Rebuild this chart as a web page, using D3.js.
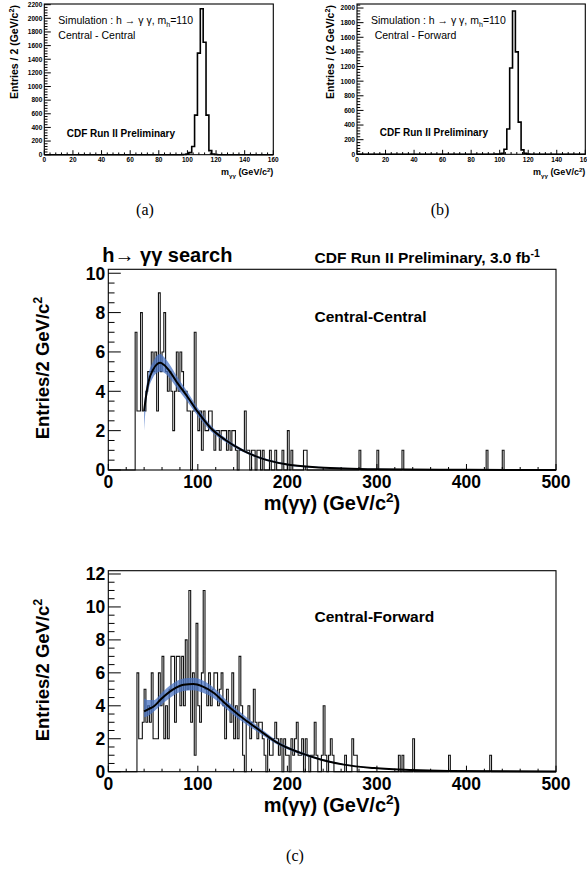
<!DOCTYPE html>
<html>
<head>
<meta charset="utf-8">
<script src="https://cdn.jsdelivr.net/npm/d3@7"></script>
<style>
  body { margin: 0; background: #fff; }
  text { font-family: "Liberation Sans", Arial, sans-serif; fill: #000; }
</style>
</head>
<body>
<div id="chart"></div>
<script>
// ---------- data ----------

// (a), (b): simulated signal, m_h = 110, 2 GeV bins (low edges)
var simLowEdges = [97, 99, 101, 103, 105, 107, 109, 111, 113, 115, 117, 119];
var simCentralCentral = [3, 8, 30, 120, 580, 1490, 2140, 1650, 580, 60, 10, 2];
var simCentralForward = [2, 5, 15, 70, 345, 1180, 1960, 1400, 440, 60, 12, 2];
var simMassTicks = [0, 20, 40, 60, 80, 100, 120, 140, 160];
var simCCTicks = [0, 200, 400, 600, 800, 1000, 1200, 1400, 1600, 1800, 2000, 2200];
var simCFTicks = [0, 200, 400, 600, 800, 1000, 1200, 1400, 1600, 1800, 2000];

// (c) data, 2 GeV bins starting at 30 GeV/c^2
var dataStart = 30;
var ccCounts = [
  7, 3, 3, 8, 3, 3, 4, 5, 5, 6,   // 30-48
  5, 6, 3, 9, 5, 6, 8, 5, 4, 5,   // 50-68
  4, 2, 4, 6, 4, 6, 5, 4, 4, 3,   // 70-88
  3, 0, 3, 7, 3, 2, 3, 1, 3, 2,   // 90-108
  2, 3, 3, 2, 1, 2, 2, 1, 2, 2,   // 110-128
  2, 1, 2, 1, 2, 2, 1, 0, 1, 1,   // 130-148
  1, 3, 1, 1, 0, 1, 1, 0, 1, 1,   // 150-168
  0, 1, 0, 0, 0, 1, 0, 0, 1, 0,   // 170-188
  0, 0, 1, 0, 0, 2, 0, 1, 0, 0,   // 190-208
  0, 0, 0, 0, 1, 1, 0             // 210-222
];
var ccTailMass = [280, 300, 328, 422, 440];
var ccTailCounts = [1, 1, 1, 1, 1];

var cfCounts = [
  0, 6, 2, 2, 3, 5, 3, 4, 3, 6,   // 30-48
  2, 2, 2, 6, 4, 7, 2, 4, 2, 5,   // 50-68
  7, 7, 3, 7, 7, 4, 7, 4, 8, 5,   // 70-88
  11, 3, 6, 1, 9, 4, 3, 6, 11, 5, // 90-108
  4, 6, 4, 5, 6, 6, 4, 5, 6, 4,   // 110-128
  2, 5, 4, 3, 6, 2, 4, 2, 7, 4,   // 130-148
  1, 0, 3, 4, 2, 3, 5, 3, 2, 3,   // 150-168
  3, 2, 1, 0, 2, 1, 1, 2, 3, 2,   // 170-188
  1, 2, 0, 2, 1, 1, 0, 2, 1, 2,   // 190-208
  3, 1, 1, 2, 0, 2, 1, 0, 1, 1,   // 210-228
  3, 1, 0, 0, 1, 4, 1, 0, 1, 2,   // 230-248
  1, 0, 0, 0, 0, 0, 0, 1, 0, 0,   // 250-268
  0, 2, 1, 1, 0                   // 270-278
];
var cfTailMass = [324, 328, 340, 380, 426];
var cfTailCounts = [1, 1, 2, 1, 1];

// background fits and their uncertainty bands
var ccFitMass = [40, 42, 45, 50, 55, 58, 62, 68, 76, 88, 100, 114, 130, 150, 172, 197, 235, 300, 400, 500];
var ccFitValue = [3.0, 3.7, 4.5, 5.1, 5.4, 5.45, 5.35, 5.05, 4.5, 3.75, 2.95, 2.15, 1.55, 1.0, 0.58, 0.3, 0.13, 0.04, 0.01, 0.003];
var ccBandLow = [2.0, 3.3, 4.1, 4.7, 4.95, 5.0, 4.95, 4.7, 4.2, 3.5, 2.75, 2.0, 1.45, 0.93, 0.53, 0.26, 0.1, 0.02, 0.005, 0.001];
var ccBandHigh = [3.4, 4.1, 4.9, 5.5, 5.85, 5.9, 5.75, 5.4, 4.8, 4.0, 3.15, 2.3, 1.65, 1.07, 0.63, 0.34, 0.16, 0.06, 0.015, 0.005];

var cfFitMass = [40, 45, 51, 59, 72, 84, 95, 105, 118, 130, 143, 155, 172, 188, 213, 238, 263, 297, 339, 380, 500];
var cfFitValue = [3.66, 3.8, 3.97, 4.41, 4.98, 5.28, 5.32, 5.18, 4.78, 4.17, 3.56, 3.06, 2.39, 1.78, 1.17, 0.73, 0.43, 0.22, 0.1, 0.05, 0.01];
var cfBandLow = [3.3, 3.4, 3.65, 4.05, 4.6, 4.9, 4.95, 4.8, 4.45, 3.9, 3.3, 2.84, 2.23, 1.66, 1.09, 0.68, 0.4, 0.2, 0.09, 0.045, 0.009];
var cfBandHigh = [4.45, 4.35, 4.35, 4.75, 5.35, 5.65, 5.7, 5.55, 5.1, 4.45, 3.8, 3.28, 2.55, 1.9, 1.25, 0.78, 0.46, 0.24, 0.11, 0.055, 0.011];

var massTicks = [0, 100, 200, 300, 400, 500];
var ccYTicks = [0, 2, 4, 6, 8, 10];
var cfYTicks = [0, 2, 4, 6, 8, 10, 12];

// ---------- drawing ----------
var width = 587;
var height = 873;

var svg = d3.select("#chart")
            .append("svg")
            .attr("width", width)
            .attr("height", height);

// text with super/subscripts: parts = [[string, "n"|"sup"|"sub"], ...]
function rich(t, size, parts) {
  var cur = 0;
  parts.forEach(function(p) {
    var k = p[1] || "n";
    var off = k == "sup" ? -0.38 * size : (k == "sub" ? 0.3 * size : 0);
    t.append("tspan")
     .attr("dy", off - cur)
     .attr("font-size", k == "n" ? size : size * 0.68)
     .text(p[0]);
    cur = off;
  });
  return t;
}

function axes(g, x, y, o) {
  // minor + major ticks, drawn inside the frame like ROOT does
  g.selectAll(".xminor").data(d3.range(o.xdom[0], o.xdom[1] + 1e-9, o.xMinor)).enter()
   .append("line")
   .attr("x1", function(d) { return x(d); }).attr("x2", function(d) { return x(d); })
   .attr("y1", o.bottom).attr("y2", function(d) {
      return o.bottom - (Math.abs(d / o.xMajor - Math.round(d / o.xMajor)) < 1e-6 ? o.xTick : o.xTick / 2);
   })
   .attr("stroke", "#000").attr("stroke-width", 1);
  g.selectAll(".yminor").data(d3.range(0, o.ymax, o.yMinor)).enter()
   .append("line")
   .attr("y1", function(d) { return y(d); }).attr("y2", function(d) { return y(d); })
   .attr("x1", o.left).attr("x2", function(d) {
      return o.left + (Math.abs(d / o.yMajor - Math.round(d / o.yMajor)) < 1e-6 ? o.yTick : o.yTick / 2);
   })
   .attr("stroke", "#000").attr("stroke-width", 1);

  g.selectAll(".xlab").data(o.xTicks).enter()
   .append("text")
   .attr("x", function(d) { return x(d); })
   .attr("y", o.bottom + o.xLabOff)
   .attr("text-anchor", "middle")
   .attr("font-weight", "bold")
   .attr("font-size", o.labSize)
   .text(function(d) { return d; });
  g.selectAll(".ylab").data(o.yTicks).enter()
   .append("text")
   .attr("x", o.left - o.yLabOff)
   .attr("y", function(d) { return y(d); })
   .attr("dy", "0.36em")
   .attr("text-anchor", "end")
   .attr("font-weight", "bold")
   .attr("font-size", o.labSize)
   .text(function(d) { return d; });

  g.append("rect")
   .attr("x", o.left).attr("y", o.top)
   .attr("width", o.right - o.left).attr("height", o.bottom - o.top)
   .attr("fill", "none").attr("stroke", "#000").attr("stroke-width", 1.1);
}

function simPanel(o) {
  var x = d3.scaleLinear().domain([0, 160]).range([o.left, o.right]);
  var y = d3.scaleLinear().domain([0, o.ymax]).range([o.bottom, o.top]);
  var g = svg.append("g");

  var pts = [[0, 0]];
  simLowEdges.forEach(function(m, i) { pts.push([m, o.counts[i]]); });
  pts.push([simLowEdges[simLowEdges.length - 1] + 2, 0]);
  pts.push([160, 0]);
  g.append("path")
   .datum(pts)
   .attr("d", d3.line().x(function(d) { return x(d[0]); })
                       .y(function(d) { return y(d[1]); })
                       .curve(d3.curveStepAfter))
   .attr("fill", "none").attr("stroke", "#000").attr("stroke-width", 1.6);

  axes(g, x, y, {left: o.left, right: o.right, top: o.top, bottom: o.bottom,
                 xdom: [0, 160], ymax: o.ymax, xMinor: 4, xMajor: 20, yMinor: 40, yMajor: 200,
                 xTick: 4.5, yTick: 6.5, xTicks: simMassTicks, yTicks: o.yTicks,
                 labSize: 6.5, xLabOff: 7.5, yLabOff: 2});

  rich(g.append("text").attr("x", o.left + 14).attr("y", 24), 10.5,
       [["Simulation : h \u2192 \u03b3 \u03b3, m"], ["h", "sub"], ["=110"]]);
  g.append("text").attr("x", o.left + o.catDx).attr("y", 39)
   .attr("font-size", 10.5).text(o.category);
  g.append("text").attr("x", o.left + o.cdfDx).attr("y", o.cdfY)
   .attr("font-size", 10).attr("font-weight", "bold").text("CDF Run II Preliminary");

  rich(g.append("text").attr("x", o.right).attr("y", 175).attr("text-anchor", "end")
        .attr("font-weight", "bold"), 9,
       [["m"], ["\u03b3\u03b3", "sub"], [" (GeV/c"], ["2", "sup"], [")"]]);
  rich(g.append("text").attr("transform", "translate(" + o.titleX + ",52) rotate(-90)")
        .attr("text-anchor", "middle").attr("font-weight", "bold"), 10.5, o.yTitle);

  svg.append("text").attr("x", o.capX).attr("y", 215)
     .attr("text-anchor", "middle")
     .style("font-family", "'Liberation Serif', 'DejaVu Serif', serif")
     .attr("font-size", 16).text(o.caption);
}

function mainPanel(o) {
  var x = d3.scaleLinear().domain([0, 500]).range([108.3, 556]);
  var y = d3.scaleLinear().domain([0, o.ymax]).range([o.bottom, o.top]);
  var g = svg.append("g");

  // full 2 GeV histogram from the arrays
  var byMass = new Map();
  o.counts.forEach(function(c, i) { byMass.set(dataStart + 2 * i, c); });
  o.tailMass.forEach(function(m, i) { byMass.set(m, o.tailCounts[i]); });
  var pts = d3.range(0, 500, 2).map(function(m) { return [m, byMass.get(m) || 0]; });
  pts.push([500, 0]);

  g.append("path")
   .datum(pts)
   .attr("d", d3.line().x(function(d) { return x(d[0]); })
                       .y(function(d) { return y(d[1]); })
                       .curve(d3.curveStepAfter))
   .attr("fill", "none").attr("stroke", "#111").attr("stroke-width", 1.1);

  // fit uncertainty band
  var band = o.fitMass.map(function(m, i) { return [m, o.bandLow[i], o.bandHigh[i]]; });
  g.append("path")
   .datum(band)
   .attr("d", d3.area().x(function(d) { return x(d[0]); })
                       .y0(function(d) { return y(d[1]); })
                       .y1(function(d) { return y(d[2]); })
                       .curve(d3.curveMonotoneX))
   .attr("fill", "#4a74c4").attr("opacity", 0.75);

  // fit
  var fit = o.fitMass.map(function(m, i) { return [m, o.fitValue[i]]; });
  g.append("path")
   .datum(fit)
   .attr("d", d3.line().x(function(d) { return x(d[0]); })
                       .y(function(d) { return y(d[1]); })
                       .curve(d3.curveMonotoneX))
   .attr("fill", "none").attr("stroke", "#000").attr("stroke-width", 2);

  axes(g, x, y, {left: 108.3, right: 556, top: o.top, bottom: o.bottom,
                 xdom: [0, 500], ymax: o.ymax, xMinor: 20, xMajor: 100, yMinor: 0.5, yMajor: 2,
                 xTick: 6, yTick: 12.5, xTicks: massTicks, yTicks: o.yTicks,
                 labSize: 17.5, xLabOff: 18, yLabOff: 3});

  g.append("text").attr("x", 314.5).attr("y", o.catY)
   .attr("font-size", 15.5).attr("font-weight", "bold").text(o.category);

  rich(g.append("text").attr("x", 332).attr("y", o.bottom + 40)
        .attr("text-anchor", "middle").attr("font-weight", "bold"), 20,
       [["m(\u03b3\u03b3) (GeV/c"], ["2", "sup"], [")"]]);
  rich(g.append("text").attr("transform", "translate(49," + o.titleY + ") rotate(-90)")
        .attr("text-anchor", "middle").attr("font-weight", "bold"), 18.5,
       [["Entries/2 GeV/c"], ["2", "sup"]]);
  return g;
}

simPanel({left: 44.3, right: 273.3, top: 4, bottom: 154.7, ymax: 2210,
          counts: simCentralCentral, yTicks: simCCTicks,
          category: "Central - Central", catDx: 14, cdfDx: 22.4, cdfY: 137,
          titleX: 18, yTitle: [["Entries / 2 (GeV/c"], ["2", "sup"], [")"]],
          capX: 145, caption: "(a)"});
simPanel({left: 357, right: 585.3, top: 4, bottom: 154.3, ymax: 2055,
          counts: simCentralForward, yTicks: simCFTicks,
          category: "Central - Forward", catDx: 17.7, cdfDx: 22.7, cdfY: 135.5,
          titleX: 334, yTitle: [["Entries / (2 GeV/c"], ["2", "sup"], [")"]],
          capX: 440, caption: "(b)"});

var cc = mainPanel({top: 269.3, bottom: 470, ymax: 10.2,
                    counts: ccCounts, tailMass: ccTailMass, tailCounts: ccTailCounts,
                    fitMass: ccFitMass, fitValue: ccFitValue, bandLow: ccBandLow, bandHigh: ccBandHigh,
                    yTicks: ccYTicks, category: "Central-Central", catY: 321.7, titleY: 368});
mainPanel({top: 570.7, bottom: 771.7, ymax: 12.2,
           counts: cfCounts, tailMass: cfTailMass, tailCounts: cfTailCounts,
           fitMass: cfFitMass, fitValue: cfFitValue, bandLow: cfBandLow, bandHigh: cfBandHigh,
           yTicks: cfYTicks, category: "Central-Forward", catY: 621.7, titleY: 670});

// headings of (c)
cc.append("text").attr("x", 102.3).attr("y", 262)
  .attr("font-size", 20).attr("font-weight", "bold").text("h\u2192 \u03b3\u03b3 search");
rich(cc.append("text").attr("x", 314.5).attr("y", 263.3).attr("font-weight", "bold"), 15.5,
     [["CDF Run II Preliminary, 3.0 fb"], ["-1", "sup"]]);

svg.append("text").attr("x", 295).attr("y", 861)
   .attr("text-anchor", "middle")
   .style("font-family", "'Liberation Serif', 'DejaVu Serif', serif")
   .attr("font-size", 16).text("(c)");
</script>
</body>
</html>
